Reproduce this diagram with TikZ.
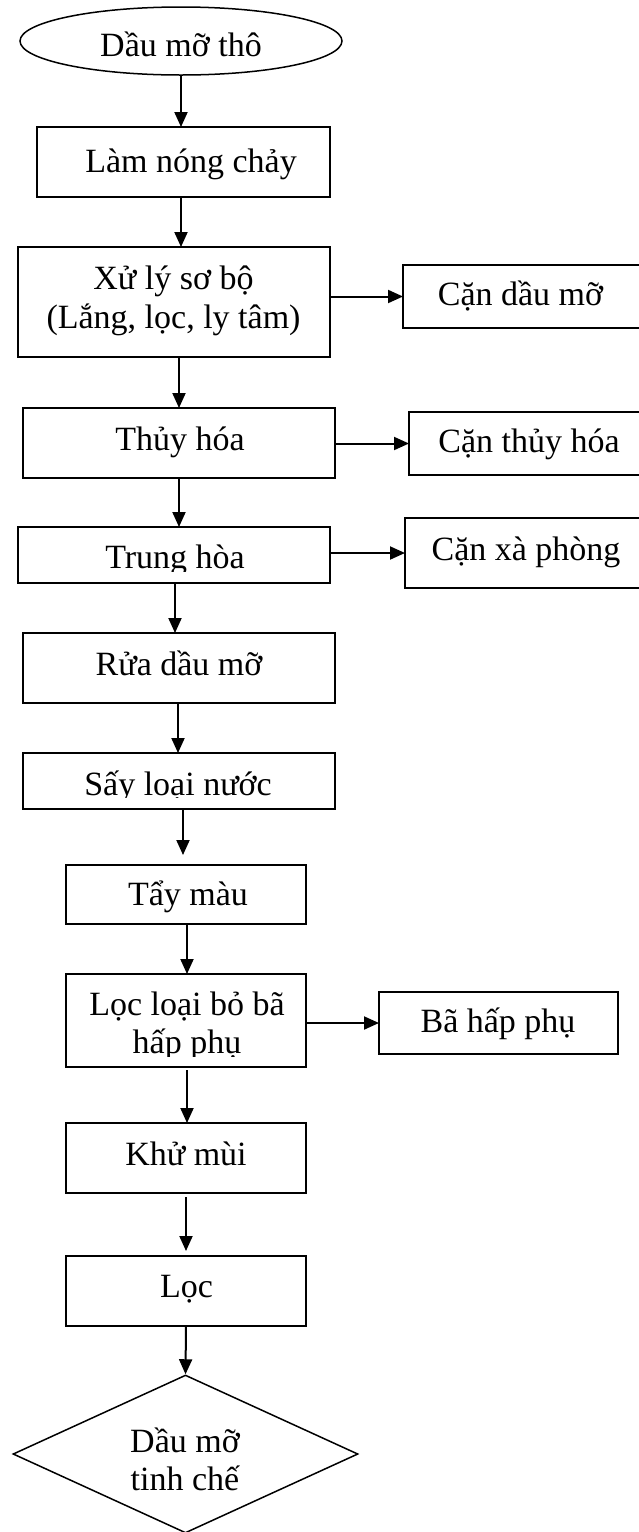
\documentclass[tikz,border=0pt]{standalone}
\usepackage{fontspec}
\setmainfont{Liberation Serif}
\usetikzlibrary{arrows.meta,shapes.geometric,calc}
\begin{document}
\begin{tikzpicture}[x=1pt,y=-1pt,
  box/.style={draw,line width=2pt,rectangle,inner sep=0pt,outer sep=0pt},
  sidebox/.style={draw,line width=1.2pt,rectangle,inner sep=0pt,outer sep=0pt},
  txt/.style={inner sep=0pt,anchor=base,font=\fontsize{34}{38}\selectfont},
  arr/.style={line width=2pt,-{Triangle[length=15pt,width=13pt]}},
]
\useasboundingbox (0,0) rectangle (639,1532);

% main column
\node[draw,ellipse,line width=1.5pt,inner sep=0pt,minimum width=322pt,minimum height=68pt] (e1) at (181,41) {};
\node[txt] (t1) at (181,56) {Dầu mỡ thô};

\node[box,minimum width=293pt,minimum height=70pt] (b2) at (183.5,162) {};
\node[txt] (t2) at (191,172) {Làm nóng chảy};

\node[box,minimum width=312pt,minimum height=110pt] (b3) at (174,302) {};
\node[txt] (t3a) at (173.5,289) {Xử lý sơ bộ};
\node[txt] (t3b) at (173.5,328) {(Lắng, lọc, ly tâm)};

\node[box,minimum width=312pt,minimum height=70pt] (b4) at (179,443) {};
\node[txt] (t4) at (180,450) {Thủy hóa};

\node[box,minimum width=312pt,minimum height=56pt] (b5) at (174,555) {};
\begin{scope}
  \clip (18,527) rectangle (330,571);
  \node[txt] (t5) at (175,568) {Trung hòa};
\end{scope}

\node[box,minimum width=312pt,minimum height=70pt] (b6) at (179,668) {};
\node[txt] (t6) at (179,675) {Rửa dầu mỡ};

\node[box,minimum width=312pt,minimum height=56pt] (b7) at (179,781) {};
\begin{scope}
  \clip (23,753) rectangle (335,797);
  \node[txt] (t7) at (178,795) {Sấy loại nước};
\end{scope}

\node[box,minimum width=240pt,minimum height=59pt] (b8) at (186,894.5) {};
\node[txt] (t8) at (188,905) {Tẩy màu};

\node[box,minimum width=240pt,minimum height=93pt] (b9) at (186,1020.5) {};
\begin{scope}
  \clip (66,974) rectangle (306,1056);
  \node[txt] (t9a) at (187,1015) {Lọc loại bỏ bã};
  \node[txt] (t9b) at (187,1053) {hấp phụ};
\end{scope}

\node[box,minimum width=240pt,minimum height=70pt] (b10) at (186,1158) {};
\node[txt] (t10) at (186,1165) {Khử mùi};

\node[box,minimum width=240pt,minimum height=70pt] (b11) at (186,1291) {};
\node[txt] (t11) at (186.5,1297) {Lọc};

\node[draw,diamond,line width=1.5pt,inner sep=0pt,minimum width=345pt,minimum height=158pt] (d) at (185.5,1454) {};
\node[txt] (td1) at (185,1452) {Dầu mỡ};
\node[txt] (td2) at (185,1490) {tinh chế};

% side boxes
\node[sidebox,minimum width=240pt,minimum height=63pt] (r1) at (523,296.5) {};
\node[txt] (tr1) at (520.5,305) {Cặn dầu mỡ};

\node[sidebox,minimum width=241pt,minimum height=63pt] (r2) at (529.5,443.5) {};
\node[txt] (tr2) at (529,452) {Cặn thủy hóa};

\node[box,minimum width=245pt,minimum height=70pt] (r3) at (527.5,553) {};
\node[txt] (tr3) at (526,560) {Cặn xà phòng};

\node[sidebox,minimum width=239pt,minimum height=62pt] (r4) at (498.5,1023) {};
\node[txt] (tr4) at (498,1032) {Bã hấp phụ};

% vertical connectors
\draw[arr] (e1.south) -- (e1.south |- b2.north);
\draw[arr] ($(b2.south)+(-2.5,0)$) -- ($(b3.north)+(7,0)$);
\draw[arr] (b4.north |- b3.south) -- (b4.north);
\draw[arr] (b4.south) -- (b4.south |- b5.north);
\draw[arr] ($(b5.south)+(1,0)$) -- ($(b6.north)+(-4,0)$);
\draw[arr] ($(b6.south)+(-1,0)$) -- ($(b7.north)+(-1,0)$);
\draw[arr,shorten >=10pt] ($(b7.south)+(4,0)$) -- ($(b8.north)+(-3,0)$);
\draw[arr] ($(b8.south)+(1,0)$) -- ($(b9.north)+(1,0)$);
\draw[arr,shorten <=3pt] ($(b9.south)+(1,0)$) -- ($(b10.north)+(1,0)$);
\draw[arr,shorten <=4pt,shorten >=5pt] (b10.south) -- (b11.north);
\draw[arr] (b11.south) -- (d.north);

% horizontal connectors
\draw[arr] (b3.east |- r1.west) -- (r1.west);
\draw[arr] (b4.east |- r2.west) -- (r2.west);
\draw[arr] (b5.east |- r3.west) -- (r3.west);
\draw[arr] (b9.east |- r4.west) -- (r4.west);
\end{tikzpicture}
\end{document}
